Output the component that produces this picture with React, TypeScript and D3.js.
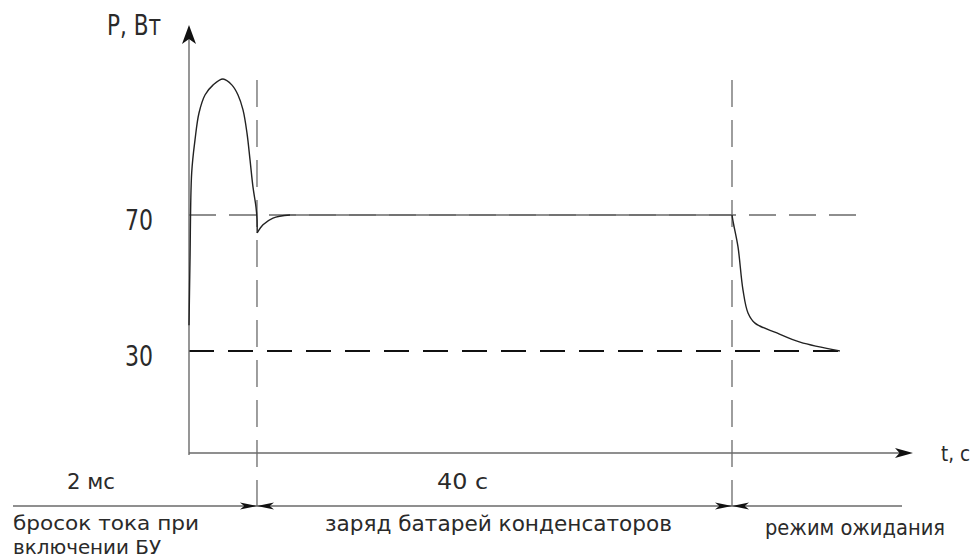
import * as d3 from "d3";

// schematic time units (0..100 along the t axis) and power in W
const surge: [number, number][] = [
  [0, 37.6], [0.14, 56.8], [0.37, 82.4], [0.83, 92.1], [1.38, 100], [2.21, 105.3],
  [3.31, 108.2], [4.7, 110], [5.94, 108.2], [6.77, 105.3], [7.46, 100.9], [8.01, 94.1],
  [8.43, 86.2], [8.84, 78.2], [9.25, 72.4], [9.39, 69], [9.42, 64.7],
];
const recovery: [number, number][] = [
  [9.42, 64.7], [10.22, 67.1], [11.6, 69.1], [13.95, 70],
];
const plateau: [number, number][] = [[13.95, 70], [75, 70]];
const standby: [number, number][] = [
  [75, 70], [75.2, 67.5], [75.83, 60.6], [76.52, 47.9], [77.21, 41.2], [78.18, 38.2],
  [81.2, 35.3], [84.4, 32.6], [89.9, 30],
];

const levels = [70, 30];
const levelEnds = [93.8, 89.9];
const phaseBounds = [9.39, 75];
const durations = ["2 мс", "40 с"];
const phaseNames = ["бросок тока при", "заряд батарей конденсаторов", "режим ожидания"];

const W = 975;
const H = 559;
const font = "'Liberation Sans Narrow', 'DejaVu Sans Condensed', sans-serif";
const grey = "#6a6a6a";
const ink = "#2a2a2a";

export default function App() {
  const x = d3.scaleLinear().domain([0, 100]).range([189, 913]);
  const y = d3.scaleLinear().domain([0, 125]).range([453, 28]);
  const line = d3.line<[number, number]>().x(d => x(d[0])).y(d => y(d[1])).curve(d3.curveCatmullRom.alpha(0.5));
  const straight = d3.line<[number, number]>().x(d => x(d[0])).y(d => y(d[1]));

  const x0 = x(0), y0 = y(0);
  const dimY = 506;
  const dimX0 = 13, dimX1 = 902;

  const arrowR = (tx: number, ty: number, len: number, hw: number) =>
    `M${tx},${ty} L${tx - len},${ty - hw} L${tx - len * 0.75},${ty} L${tx - len},${ty + hw} Z`;
  const arrowL = (tx: number, ty: number, len: number, hw: number) =>
    `M${tx},${ty} L${tx + len},${ty - hw} L${tx + len * 0.75},${ty} L${tx + len},${ty + hw} Z`;

  return (
    <svg width={W} height={H} style={{ position: "absolute", left: 0, top: 0, background: "#fff" }}>
      {/* reference levels */}
      {levels.map((v, i) => (
        <line key={v} x1={x0} x2={x(levelEnds[i])} y1={y(v)} y2={y(v)}
          stroke={i === 0 ? grey : "#111"} strokeWidth={i === 0 ? 1.3 : 1.8}
          strokeDasharray={i === 0 ? "27,13" : "25,14"} />
      ))}
      {levels.map(v => (
        <text key={"t" + v} x={153} y={y(v) + 15} textAnchor="end" fontFamily={font} fontSize={28}
          fill={ink} textLength={28} lengthAdjust="spacingAndGlyphs">{v}</text>
      ))}

      {/* phase boundaries */}
      {phaseBounds.map(b => (
        <line key={b} x1={x(b)} x2={x(b)} y1={80} y2={dimY} stroke={grey} strokeWidth={1.3} strokeDasharray="27,13" />
      ))}

      {/* axes */}
      <line x1={x0} x2={x0} y1={30} y2={y0 + 2} stroke={grey} strokeWidth={1.4} />
      <line x1={x0} x2={x(100) - 4} y1={y0} y2={y0} stroke={grey} strokeWidth={1.4} />
      <path d={`M${x0},25 L${x0 - 7},44 L${x0},39 L${x0 + 7},44 Z`} fill="#111" />
      <path d={arrowR(x(100), y0, 18, 5)} fill="#111" />
      <text x={107} y={35} fontFamily={font} fontSize={28} fill={ink} textLength={54} lengthAdjust="spacingAndGlyphs">P, Вт</text>
      <text x={941} y={461} fontFamily={font} fontSize={21} fill={ink} textLength={29} lengthAdjust="spacingAndGlyphs">t, с</text>

      {/* power curve */}
      <path d={line(surge) ?? ""} fill="none" stroke="#222" strokeWidth={1.4} />
      <path d={line(recovery) ?? ""} fill="none" stroke="#222" strokeWidth={1.4} />
      <path d={straight(plateau) ?? ""} fill="none" stroke={grey} strokeWidth={1.4} />
      <path d={line(standby) ?? ""} fill="none" stroke="#222" strokeWidth={1.4} />

      {/* duration labels */}
      <text x={67} y={489} fontFamily={font} fontSize={22} fill={ink} textLength={48} lengthAdjust="spacingAndGlyphs">{durations[0]}</text>
      <text x={437} y={489} fontFamily={font} fontSize={22} fill={ink} textLength={51} lengthAdjust="spacingAndGlyphs">{durations[1]}</text>

      {/* dimension line with arrows */}
      <line x1={dimX0} x2={dimX1} y1={dimY} y2={dimY} stroke={grey} strokeWidth={1.3} />
      {phaseBounds.map(b => (
        <g key={"a" + b}>
          <path d={arrowR(x(b), dimY, 17, 3.5)} fill="#111" />
          <path d={arrowL(x(b), dimY, 17, 3.5)} fill="#111" />
        </g>
      ))}

      {/* phase names */}
      <text x={13} y={530} fontFamily={font} fontSize={20} fill={ink} textLength={186} lengthAdjust="spacingAndGlyphs">{phaseNames[0]}</text>
      <text x={13} y={554} fontFamily={font} fontSize={20} fill={ink} textLength={148} lengthAdjust="spacingAndGlyphs">включении БУ</text>
      <text x={325} y={531} fontFamily={font} fontSize={22} fill={ink} textLength={347} lengthAdjust="spacingAndGlyphs">{phaseNames[1]}</text>
      <text x={765} y={535} fontFamily={font} fontSize={22} fill={ink} textLength={180} lengthAdjust="spacingAndGlyphs">{phaseNames[2]}</text>
    </svg>
  );
}
